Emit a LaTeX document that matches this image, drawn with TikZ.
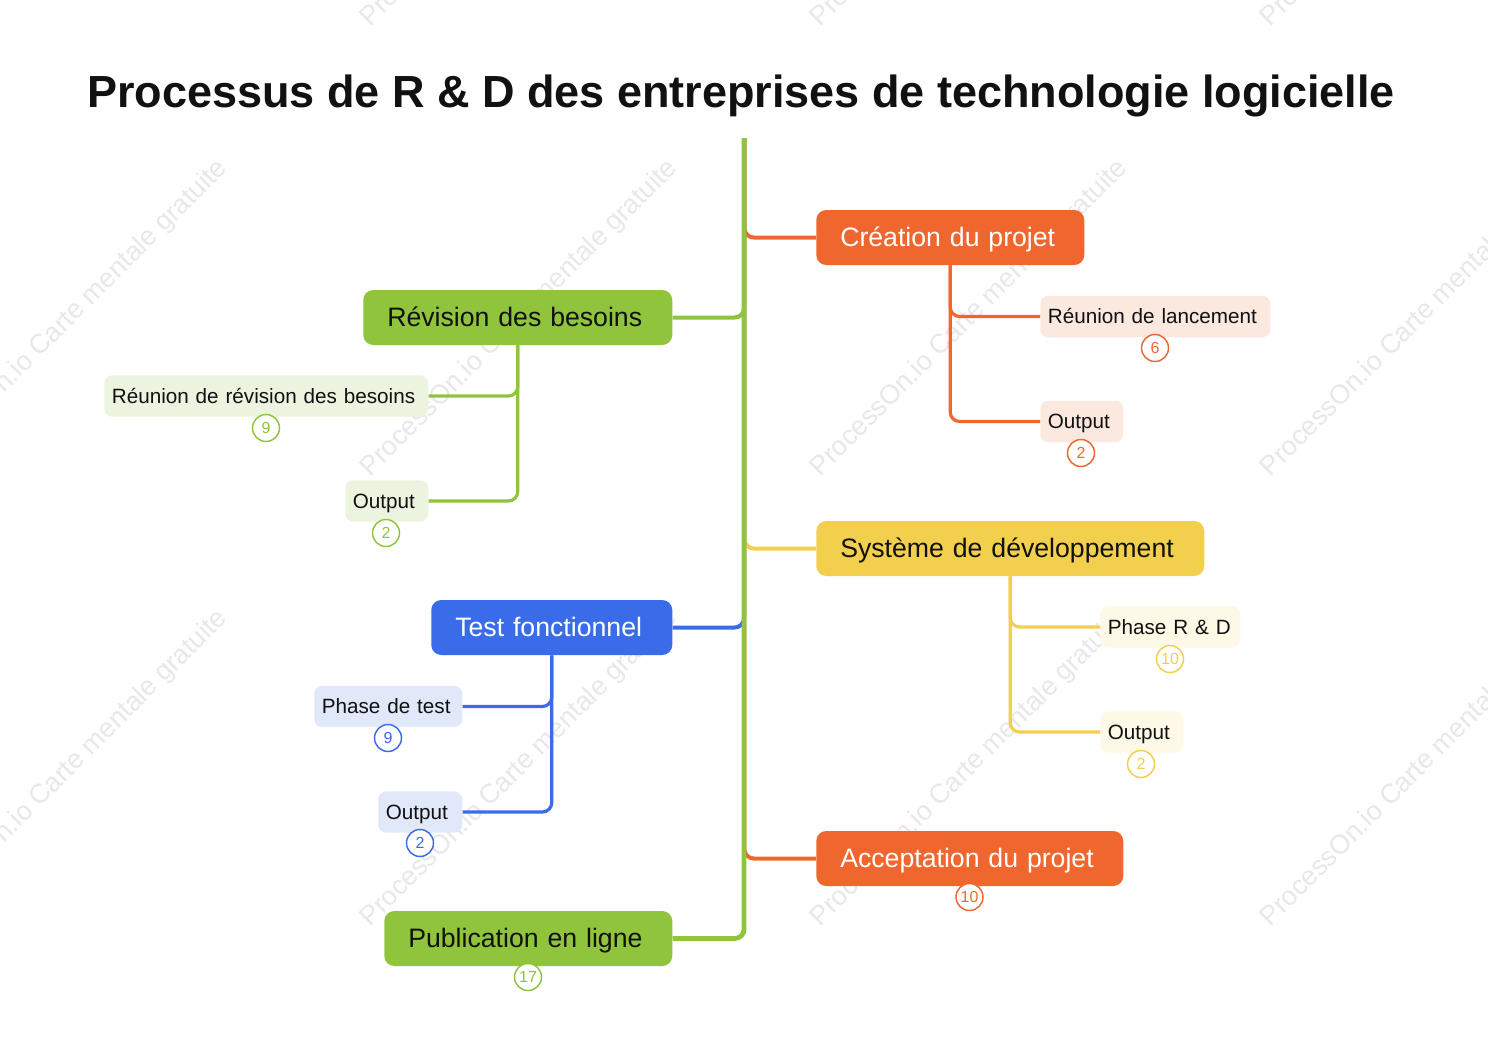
\documentclass[tikz,border=0pt]{standalone}
\usepackage{fontspec}
\setmainfont{Liberation Sans}
\definecolor{cOrange}{HTML}{EF672E}
\definecolor{cGreen}{HTML}{8FC43C}
\definecolor{cBlue}{HTML}{3A6BE8}
\definecolor{cYellow}{HTML}{F3CF4E}
\definecolor{lOrange}{HTML}{FBE8DF}
\definecolor{lGreen}{HTML}{ECF4E0}
\definecolor{lBlue}{HTML}{E1E8FA}
\definecolor{lYellow}{HTML}{FEF8E6}
\definecolor{cInk}{HTML}{111111}
\definecolor{cMark}{HTML}{E8E8E8}
\tikzset{
  x=0.75pt, y=-0.75pt,
  topic/.style 2 args={anchor=west, rectangle, rounded corners=7.5pt, fill=#1, text=#2,
    inner xsep=18pt, inner ysep=0pt, align=left, text height=15.5pt, text depth=2.5pt,
    minimum height=41.25pt, font=\fontsize{20pt}{24pt}\selectfont},
  sub/.style={anchor=west, rectangle, rounded corners=6pt, fill=#1, text=cInk,
    inner xsep=5.7pt, inner ysep=0pt, align=left, text height=13.2pt, text depth=2.2pt,
    minimum height=31pt, font=\fontsize{15.5pt}{19pt}\selectfont},
  wid/.style={text width=\dimexpr#1pt*3/4\relax},
  badge/.style={circle, draw=#1, fill=white, text=#1, line width=1.1pt, inner sep=0pt,
    minimum size=20.25pt, font=\fontsize{12pt}{14pt}\selectfont},
  trunk/.style={draw=#1, line width=3pt, rounded corners=7pt},
  greentrunk/.style={draw=cGreen, line width=3.6pt, rounded corners=7pt},
  branch/.style={draw=#1, line width=2.4pt, rounded corners=7pt},
  watermark/.style={rotate=45, text=cMark, font=\fontsize{20.2pt}{24pt}\selectfont, inner sep=0pt},
}
\begin{document}
\begin{tikzpicture}
\useasboundingbox (0,0) rectangle (1488,1053);
\fill[white] (0,0) rectangle (1488,1053);
\begin{scope}
\clip (0,0) rectangle (1488,1053);
\foreach \cx in {69.5,519.5,969.5,1419.5}
  \foreach \cy in {-131.5,318.5,768.5}
    \node[watermark] (wm\cx-\cy) at (\cx,\cy) {ProcessOn.io Carte mentale gratuite};
\end{scope}

\node[anchor=center, text=cInk, inner sep=0pt, font=\bfseries\fontsize{33.75pt}{40pt}\selectfont] (title) at (741,96)
  {Processus de R \& D des entreprises de technologie logicielle};

\coordinate (rootR) at (744.4,138);
\coordinate (rootL) at (744,138);

% topics
\node[topic={cOrange}{white}, wid=220] (crea) at (816,237.5) {Création du projet};
\node[topic={cYellow}{cInk}, wid=340] (sys) at (816,548.5) {Système de développement};
\node[topic={cOrange}{white}, wid=259] (acc) at (816,858.5) {Acceptation du projet};
\node[topic={cGreen}{cInk}, wid=261] (rev) at (363,317.5) {Révision des besoins};
\node[topic={cBlue}{white}, wid=193] (test) at (431,627.5) {Test fonctionnel};
\node[topic={cGreen}{cInk}, wid=240] (pub) at (384,938.5) {Publication en ligne};

% subtopics
\node[sub=lOrange, wid=214.8] (s1) at (1040,316.5) {Réunion de lancement};
\node[sub=lOrange, wid=67.8] (s2) at (1040,421.5) {Output};
\node[sub=lYellow, wid=124.8] (s3) at (1100,627) {Phase R \& D};
\node[sub=lYellow, wid=67.8] (s4) at (1100,732) {Output};
\node[sub=lGreen, wid=308.8] (s5) at (104,396) {Réunion de révision des besoins};
\node[sub=lGreen, wid=67.8] (s6) at (345,501) {Output};
\node[sub=lBlue, wid=132.8] (s7) at (314,706.5) {Phase de test};
\node[sub=lBlue, wid=68.8] (s8) at (378,812) {Output};

% badges
\node[badge=cOrange] (b1) at (1155,348) {6};
\node[badge=cOrange] (b2) at (1081,453) {2};
\node[badge=cYellow] (b3) at (1170,659) {10};
\node[badge=cYellow] (b4) at (1141,764) {2};
\node[badge=cOrange] (b5) at (969.5,897) {10};
\node[badge=cGreen] (b6) at (266,428) {9};
\node[badge=cGreen] (b7) at (386,533) {2};
\node[badge=cBlue] (b8) at (388,738) {9};
\node[badge=cBlue] (b9) at (420,843) {2};
\node[badge=cGreen] (b10) at (528,977) {17};

% sub-branches
\draw[branch=cOrange] (crea.south) |- (s1.west);
\draw[branch=cOrange] (crea.south) |- (s2.west);
\draw[branch=cYellow] (sys.south) |- (s3.west);
\draw[branch=cYellow] (sys.south) |- (s4.west);
\draw[branch=cGreen] (rev.south) |- (s5.east);
\draw[branch=cGreen] (rev.south) |- (s6.east);
\draw[branch=cBlue] (test.south) |- (s7.east);
\draw[branch=cBlue] (test.south) |- (s8.east);

% trunk connectors
\draw[trunk=cOrange] (rootR) |- (acc.west);
\draw[trunk=cYellow] (rootR) |- (sys.west);
\draw[trunk=cOrange] (rootR) |- (crea.west);
\draw[trunk=cBlue] (rootL) |- (test.east);
\draw[trunk=cGreen] (rootL) |- (rev.east);
\draw[greentrunk] (rootL) |- (pub.east);
\end{tikzpicture}
\end{document}
